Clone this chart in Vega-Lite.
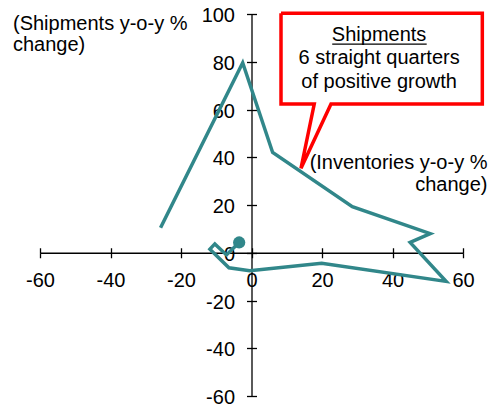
{
  "$schema": "https://vega.github.io/schema/vega-lite/v6.json",
  "width": 423,
  "height": 382,
  "autosize": {"type": "none"},
  "padding": {"left": 40, "top": 14, "right": 27, "bottom": 8},
  "background": "white",
  "config": {
    "view": {"stroke": null},
    "font": "Liberation Sans",
    "axis": {
      "labelFont": "Liberation Sans",
      "labelFontSize": 20,
      "labelColor": "black",
      "labelExpr": "datum.value + ''",
      "titleFont": "Liberation Sans",
      "titleFontSize": 20,
      "titleFontWeight": "normal",
      "titleColor": "black",
      "domainColor": "black",
      "domainWidth": 1.3,
      "tickColor": "black",
      "tickWidth": 1.3,
      "tickSize": 5,
      "grid": false
    }
  },
  "datasets": {
    "path": [
      {"q": 1, "inventories": -25.8, "shipments": 10.5},
      {"q": 2, "inventories": -2.5, "shipments": 79.6},
      {"q": 3, "inventories": 6.0, "shipments": 42.0},
      {"q": 4, "inventories": 28.6, "shipments": 19.3},
      {"q": 5, "inventories": 50.7, "shipments": 8.0},
      {"q": 6, "inventories": 45.0, "shipments": 4.3},
      {"q": 7, "inventories": 55.2, "shipments": -12.0},
      {"q": 8, "inventories": 19.9, "shipments": -4.4},
      {"q": 9, "inventories": -0.5, "shipments": -7.5},
      {"q": 10, "inventories": -6.4, "shipments": -6.3},
      {"q": 11, "inventories": -11.8, "shipments": 1.5},
      {"q": 12, "inventories": -10.4, "shipments": 3.7},
      {"q": 13, "inventories": -7.1, "shipments": -0.9},
      {"q": 14, "inventories": -3.5, "shipments": 4.3}
    ],
    "callout": [
      {"i": 1, "x": 8.37, "y": 100.3},
      {"i": 2, "x": 65.48, "y": 100.3},
      {"i": 3, "x": 65.48, "y": 62.3},
      {"i": 4, "x": 22.55, "y": 62.3},
      {"i": 5, "x": 14.04, "y": 35.4},
      {"i": 6, "x": 17.8, "y": 62.3},
      {"i": 7, "x": 8.37, "y": 62.3},
      {"i": 8, "x": 8.37, "y": 100.3}
    ],
    "calloutText": [
      {"text": "Shipments", "x": 36.2, "y": 88.7},
      {"text": "6 straight quarters", "x": 36.2, "y": 78.9},
      {"text": "of positive growth", "x": 36.2, "y": 69.1}
    ],
    "underline": [
      {"x": 22.9, "x2": 49.7, "y": 87.4}
    ]
  },
  "resolve": {"axis": {"x": "independent", "y": "independent"}},
  "layer": [
    {
      "data": {"name": "path"},
      "mark": {"type": "line", "color": "#31878A", "strokeWidth": 3.5, "strokeCap": "butt", "strokeJoin": "miter", "clip": false},
      "encoding": {
        "x": {
          "field": "inventories", "type": "quantitative",
          "scale": {"domain": [-60, 60], "nice": false, "zero": false},
          "axis": {
            "orient": "bottom", "offset": -143.25,
            "values": [-60, -40, -20, 0, 20, 40, 60],
            "labelPadding": 13,
            "labelFlush": false,
            "labelOverlap": false,
            "title": ["(Inventories  y-o-y %", "change)"],
            "titleAlign": "right",
            "titleAnchor": null,
            "titleBaseline": "alphabetic",
            "titleLineHeight": 22,
            "titleX": 447,
            "titleY": -84.5
          }
        },
        "y": {
          "field": "shipments", "type": "quantitative",
          "scale": {"domain": [-60, 100], "nice": false, "zero": false},
          "axis": {
            "orient": "left", "offset": -211.5,
            "values": [-60, -40, -20, 0, 20, 40, 60, 80, 100],
            "labelPadding": 12,
            "labelOffset": 1.5,
            "labelFlush": false,
            "labelOverlap": false,
            "title": ["(Shipments y-o-y %", "change)"],
            "titleAngle": 0,
            "titleAlign": "left",
            "titleAnchor": null,
            "titleBaseline": "alphabetic",
            "titleLineHeight": 21,
            "titleX": -239,
            "titleY": 15.5
          }
        },
        "order": {"field": "q", "type": "quantitative"}
      }
    },
    {
      "data": {"name": "path"},
      "mark": {"type": "point", "opacity": 0},
      "encoding": {
        "x": {
          "field": "inventories", "type": "quantitative",
          "axis": {
            "orient": "top", "offset": -238.75,
            "values": [-60, -40, -20, 0, 20, 40, 60],
            "labels": false, "domain": false, "title": null
          }
        },
        "y": {
          "field": "shipments", "type": "quantitative",
          "axis": {
            "orient": "right", "offset": -211.5,
            "values": [-60, -40, -20, 0, 20, 40, 60, 80, 100],
            "labels": false, "domain": false, "title": null
          }
        }
      }
    },
    {
      "data": {"name": "path"},
      "transform": [{"filter": "datum.q === 14"}],
      "mark": {"type": "circle", "color": "#31878A", "opacity": 1},
      "encoding": {
        "x": {"field": "inventories", "type": "quantitative", "axis": null},
        "y": {"field": "shipments", "type": "quantitative", "axis": null},
        "size": {"value": 150}
      }
    },
    {
      "data": {"name": "callout"},
      "mark": {"type": "line", "color": "#FF0000", "strokeWidth": 3.5, "strokeJoin": "miter", "clip": false},
      "encoding": {
        "x": {"field": "x", "type": "quantitative", "axis": null},
        "y": {"field": "y", "type": "quantitative", "axis": null},
        "order": {"field": "i", "type": "quantitative"}
      }
    },
    {
      "data": {"name": "calloutText"},
      "mark": {"type": "text", "font": "Liberation Sans", "fontSize": 20, "color": "black", "align": "center", "baseline": "alphabetic"},
      "encoding": {
        "x": {"field": "x", "type": "quantitative", "axis": null},
        "y": {"field": "y", "type": "quantitative", "axis": null},
        "text": {"field": "text"}
      }
    },
    {
      "data": {"name": "underline"},
      "mark": {"type": "rule", "color": "black", "strokeWidth": 1.3},
      "encoding": {
        "x": {"field": "x", "type": "quantitative", "axis": null},
        "x2": {"field": "x2"},
        "y": {"field": "y", "type": "quantitative", "axis": null}
      }
    }
  ]
}
